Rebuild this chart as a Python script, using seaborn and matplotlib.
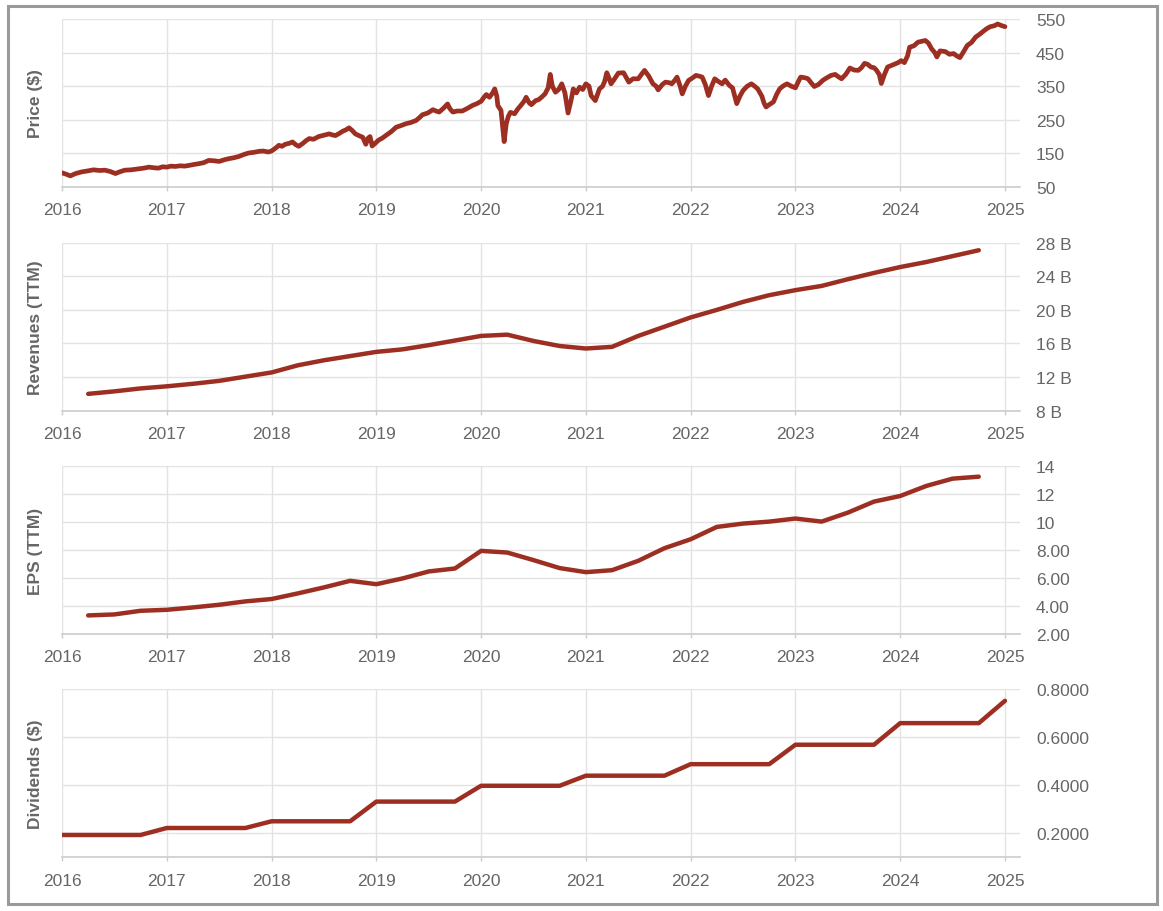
import numpy as np
import pandas as pd
import matplotlib
matplotlib.use("Agg")
import matplotlib.pyplot as plt
import seaborn as sns
from matplotlib.patches import Rectangle

# weekly-ish closing price (decimal year, $)
price_year = [
    2016.00, 2016.04, 2016.08, 2016.13, 2016.19, 2016.25, 2016.30, 2016.36, 2016.41, 2016.46,
    2016.51, 2016.55, 2016.60, 2016.66, 2016.73, 2016.78, 2016.83, 2016.88, 2016.92, 2016.96,
    2017.00, 2017.04, 2017.08, 2017.13, 2017.17, 2017.21, 2017.26, 2017.30, 2017.35, 2017.40,
    2017.45, 2017.50, 2017.55, 2017.59, 2017.64, 2017.69, 2017.73, 2017.78, 2017.83, 2017.88,
    2017.92, 2017.97, 2018.00, 2018.04, 2018.07, 2018.10, 2018.13, 2018.17, 2018.20, 2018.23,
    2018.26, 2018.30, 2018.33, 2018.36, 2018.40, 2018.45, 2018.50, 2018.55, 2018.58, 2018.61,
    2018.65, 2018.68, 2018.71, 2018.74, 2018.77, 2018.80, 2018.84, 2018.87, 2018.90, 2018.92,
    2018.94, 2018.96, 2018.99, 2019.02, 2019.06, 2019.09, 2019.14, 2019.19, 2019.23, 2019.28,
    2019.33, 2019.38, 2019.41, 2019.44, 2019.49, 2019.54, 2019.57, 2019.60, 2019.64, 2019.68,
    2019.70, 2019.73, 2019.77, 2019.82, 2019.87, 2019.92, 2019.96, 2020.00, 2020.03, 2020.05,
    2020.08, 2020.11, 2020.13, 2020.15, 2020.16, 2020.19, 2020.22, 2020.24, 2020.26, 2020.28,
    2020.32, 2020.35, 2020.38, 2020.41, 2020.43, 2020.46, 2020.48, 2020.52, 2020.55, 2020.58,
    2020.61, 2020.64, 2020.66, 2020.68, 2020.71, 2020.74, 2020.77, 2020.80, 2020.83, 2020.86,
    2020.88, 2020.91, 2020.94, 2020.97, 2021.00, 2021.03, 2021.05, 2021.09, 2021.11, 2021.13,
    2021.16, 2021.18, 2021.20, 2021.22, 2021.24, 2021.27, 2021.31, 2021.36, 2021.41, 2021.45,
    2021.50, 2021.53, 2021.56, 2021.60, 2021.64, 2021.67, 2021.69, 2021.73, 2021.76, 2021.80,
    2021.82, 2021.85, 2021.87, 2021.90, 2021.92, 2021.95, 2021.98, 2022.02, 2022.05, 2022.08,
    2022.11, 2022.14, 2022.17, 2022.20, 2022.23, 2022.26, 2022.30, 2022.33, 2022.37, 2022.40,
    2022.44, 2022.47, 2022.50, 2022.54, 2022.58, 2022.61, 2022.64, 2022.68, 2022.70, 2022.72,
    2022.75, 2022.79, 2022.82, 2022.85, 2022.88, 2022.92, 2022.96, 2023.00, 2023.03, 2023.05,
    2023.09, 2023.12, 2023.15, 2023.18, 2023.22, 2023.26, 2023.30, 2023.34, 2023.38, 2023.41,
    2023.44, 2023.48, 2023.52, 2023.56, 2023.60, 2023.63, 2023.66, 2023.69, 2023.72, 2023.75,
    2023.77, 2023.80, 2023.82, 2023.85, 2023.88, 2023.92, 2023.95, 2023.98, 2024.01, 2024.04,
    2024.07, 2024.09, 2024.13, 2024.17, 2024.21, 2024.24, 2024.27, 2024.30, 2024.33, 2024.35,
    2024.38, 2024.43, 2024.47, 2024.51, 2024.54, 2024.57, 2024.60, 2024.64, 2024.68, 2024.72,
    2024.76, 2024.80, 2024.83, 2024.86, 2024.90, 2024.93, 2024.97, 2025.00,
]
price_usd = [
    92, 88, 83, 90, 95, 98, 101, 99, 100, 96,
    90, 95, 100, 101, 104, 106, 109, 107, 106, 110,
    109, 112, 111, 113, 112, 114, 117, 119, 122, 129,
    128, 126, 131, 134, 137, 141, 146, 151, 153, 156,
    157, 154, 157, 166, 174, 171, 177, 180, 184, 176,
    171, 180, 188, 194, 192, 200, 204, 208, 205, 203,
    210, 216, 220, 226, 218, 208, 202, 198, 177, 195,
    200, 172, 180, 189, 196, 203, 214, 228, 232, 238,
    242, 248, 256, 265, 270, 280, 276, 273, 284, 297,
    284, 273, 276, 276, 284, 293, 298, 305, 318, 325,
    317, 330, 342, 320, 292, 278, 185, 238, 260, 272,
    268, 282, 293, 305, 317, 300, 295, 307, 310, 318,
    327, 345, 385, 350, 332, 340, 357, 330, 270, 310,
    342, 330, 347, 340, 357, 350, 322, 307, 325, 342,
    350, 365, 390, 375, 357, 370, 389, 390, 362, 372,
    372, 385, 397, 380, 357, 350, 339, 355, 362, 360,
    357, 368, 377, 350, 327, 350, 367, 375, 382, 380,
    377, 355, 322, 350, 372, 365, 357, 368, 352, 345,
    298, 320, 337, 350, 357, 350, 342, 320, 300, 288,
    295, 303, 325, 342, 350, 357, 350, 345, 365, 377,
    375, 372, 360, 349, 355, 367, 375, 382, 385, 378,
    372, 385, 404, 398, 397, 405, 418, 415, 407, 405,
    399, 385, 358, 385, 407, 412, 416, 420, 426, 420,
    440, 466, 470, 481, 484, 486, 478, 461, 450, 437,
    455, 453, 445, 447, 440, 435, 450, 471, 480, 496,
    505, 515, 522, 527, 530, 535, 530, 527,
]

# quarterly TTM figures
quarter_year = [2016.25 + 0.25 * i for i in range(35)]
revenue_bn = [
    10.0, 10.3, 10.65, 10.9, 11.2, 11.55, 12.05, 12.55, 13.4, 14.0,
    14.5, 15.0, 15.3, 15.8, 16.35, 16.9, 17.05, 16.3, 15.7, 15.4,
    15.6, 16.9, 18.0, 19.1, 20.0, 20.95, 21.75, 22.35, 22.85, 23.65,
    24.4, 25.1, 25.7, 26.4, 27.1,
]
eps_ttm = [
    3.33, 3.40, 3.66, 3.73, 3.90, 4.09, 4.33, 4.50, 4.90, 5.33,
    5.80, 5.56, 5.97, 6.47, 6.68, 7.94, 7.82, 7.28, 6.71, 6.42,
    6.56, 7.23, 8.13, 8.77, 9.65, 9.89, 10.03, 10.25, 10.03, 10.67,
    11.46, 11.86, 12.58, 13.10, 13.24,
]

div_year = [2016.0 + 0.25 * i for i in range(37)]
dividend_usd = [
    0.193, 0.193, 0.193, 0.193, 0.222, 0.222, 0.222, 0.222, 0.250, 0.250,
    0.250, 0.250, 0.332, 0.332, 0.332, 0.332, 0.398, 0.398, 0.398, 0.398,
    0.440, 0.440, 0.440, 0.440, 0.488, 0.488, 0.488, 0.488, 0.569, 0.569,
    0.569, 0.569, 0.659, 0.659, 0.659, 0.659, 0.752,
]

years = [2016, 2017, 2018, 2019, 2020, 2021, 2022, 2023, 2024, 2025]
year_labels = [str(y) for y in years]

price_ticks = [50, 150, 250, 350, 450, 550]
price_labels = ["50", "150", "250", "350", "450", "550"]
rev_ticks = [8, 12, 16, 20, 24, 28]
rev_labels = ["8 B", "12 B", "16 B", "20 B", "24 B", "28 B"]
eps_ticks = [2, 4, 6, 8, 10, 12, 14]
eps_labels = ["2.00", "4.00", "6.00", "8.00", "10", "12", "14"]
div_ticks = [0.2, 0.4, 0.6, 0.8]
div_labels = ["0.2000", "0.4000", "0.6000", "0.8000"]

sns.set_theme(style="whitegrid")
plt.rcParams['font.family'] = ['Liberation Sans', 'DejaVu Sans']

line_color = "#9d2f22"
text_color = "#666666"

fig = plt.figure(figsize=(11.63, 9.12), dpi=100)
fig.patch.set_facecolor("white")

panels = [
    (pd.DataFrame({"year": price_year, "value": price_usd}), "Price ($)",
     (50, 550), price_ticks, price_labels, 0.7939, 3.4),
    (pd.DataFrame({"year": quarter_year, "value": revenue_bn}), "Revenues (TTM)",
     (8, 28), rev_ticks, rev_labels, 0.5486, 3.2),
    (pd.DataFrame({"year": quarter_year, "value": eps_ttm}), "EPS (TTM)",
     (2, 14), eps_ticks, eps_labels, 0.3037, 3.2),
    (pd.DataFrame({"year": div_year, "value": dividend_usd}), "Dividends ($)",
     (0.1, 0.8), div_ticks, div_labels, 0.0589, 3.2),
]

for df, label, ylim, ticks, tlabels, bottom, lw in panels:
    ax = fig.add_axes([0.0533, bottom, 0.8237, 0.1842])
    sns.lineplot(data=df, x="year", y="value", ax=ax, color=line_color, linewidth=lw)
    ax.set_facecolor("white")
    ax.set_xlim(2016, 2025.143)
    ax.set_ylim(*ylim)
    ax.set_xticks(years)
    ax.set_xticklabels(year_labels)
    ax.set_yticks(ticks)
    ax.set_yticklabels(tlabels)
    ax.yaxis.tick_right()
    ax.yaxis.set_label_position("left")
    ax.set_xlabel("")
    ax.set_ylabel(label, fontsize=12.5, fontweight="bold", color=text_color)
    ax.yaxis.set_label_coords(-0.020, 0.5)
    ax.tick_params(axis="y", length=0, pad=11.5, labelsize=12.5, labelcolor=text_color)
    ax.tick_params(axis="x", length=3, width=1, color="#cccccc", pad=8,
                   labelsize=12.5, labelcolor=text_color, bottom=True)
    ax.grid(True, color="#e3e3e3", linewidth=1)
    for s in ["top", "right", "left"]:
        ax.spines[s].set_visible(False)
    ax.spines["bottom"].set_color("#cccccc")
    ax.spines["bottom"].set_linewidth(1.2)

fig.add_artist(Rectangle((8 / 1163, 1 - 905 / 912), 1149 / 1163, 898 / 912,
                         transform=fig.transFigure, fill=False,
                         edgecolor="#9a9a9a", linewidth=2.2))

fig.savefig("out.png", dpi=100)
